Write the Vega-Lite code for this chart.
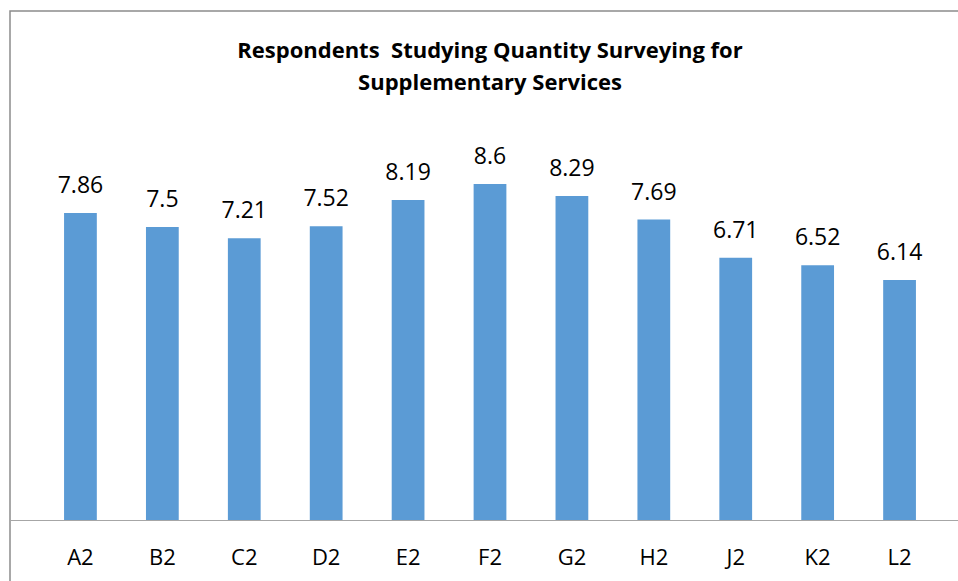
{
  "$schema": "https://vega.github.io/schema/vega-lite/v6.json",
  "width": 960,
  "height": 580,
  "autosize": {"type": "none"},
  "padding": {"left": 10, "top": 11, "right": 0, "bottom": 0},
  "background": "white",
  "config": {
    "view": {"stroke": "#8c8c8c", "strokeWidth": 1.5},
    "font": "Open Sans"
  },
  "title": {
    "text": ["Respondents \u00a0Studying Quantity Surveying for", "Supplementary Services"],
    "fontSize": 22,
    "fontWeight": "bold",
    "font": "Open Sans",
    "color": "black",
    "anchor": "middle",
    "frame": "group",
    "baseline": "alphabetic",
    "lineHeight": 32,
    "offset": -101
  },
  "data": {
    "values": [
      {"group": "A2", "value": 7.86},
      {"group": "B2", "value": 7.5},
      {"group": "C2", "value": 7.21},
      {"group": "D2", "value": 7.52},
      {"group": "E2", "value": 8.19},
      {"group": "F2", "value": 8.6},
      {"group": "G2", "value": 8.29},
      {"group": "H2", "value": 7.69},
      {"group": "J2", "value": 6.71},
      {"group": "K2", "value": 6.52},
      {"group": "L2", "value": 6.14}
    ]
  },
  "encoding": {
    "x": {
      "field": "group",
      "type": "nominal",
      "sort": null,
      "scale": {"paddingInner": 0.6, "paddingOuter": 0.66, "align": 0.5},
      "axis": {
        "orient": "bottom",
        "offset": -71,
        "title": null,
        "ticks": false,
        "labelAngle": 0,
        "labelFontSize": 22,
        "labelColor": "black",
        "labelBaseline": "alphabetic",
        "labelPadding": 44,
        "domainColor": "#a6a6a6",
        "domainWidth": 1,
        "grid": false
      }
    },
    "y": {
      "field": "value",
      "type": "quantitative",
      "scale": {"domain": [-1.817, 13.028], "nice": false, "zero": false},
      "axis": null
    }
  },
  "layer": [
    {
      "mark": {"type": "bar", "color": "#5B9BD5"},
      "encoding": {"y2": {"datum": 0}}
    },
    {
      "mark": {"type": "text", "fontSize": 23, "color": "black", "baseline": "alphabetic", "dy": -20},
      "encoding": {"text": {"field": "value", "type": "quantitative"}}
    }
  ]
}
